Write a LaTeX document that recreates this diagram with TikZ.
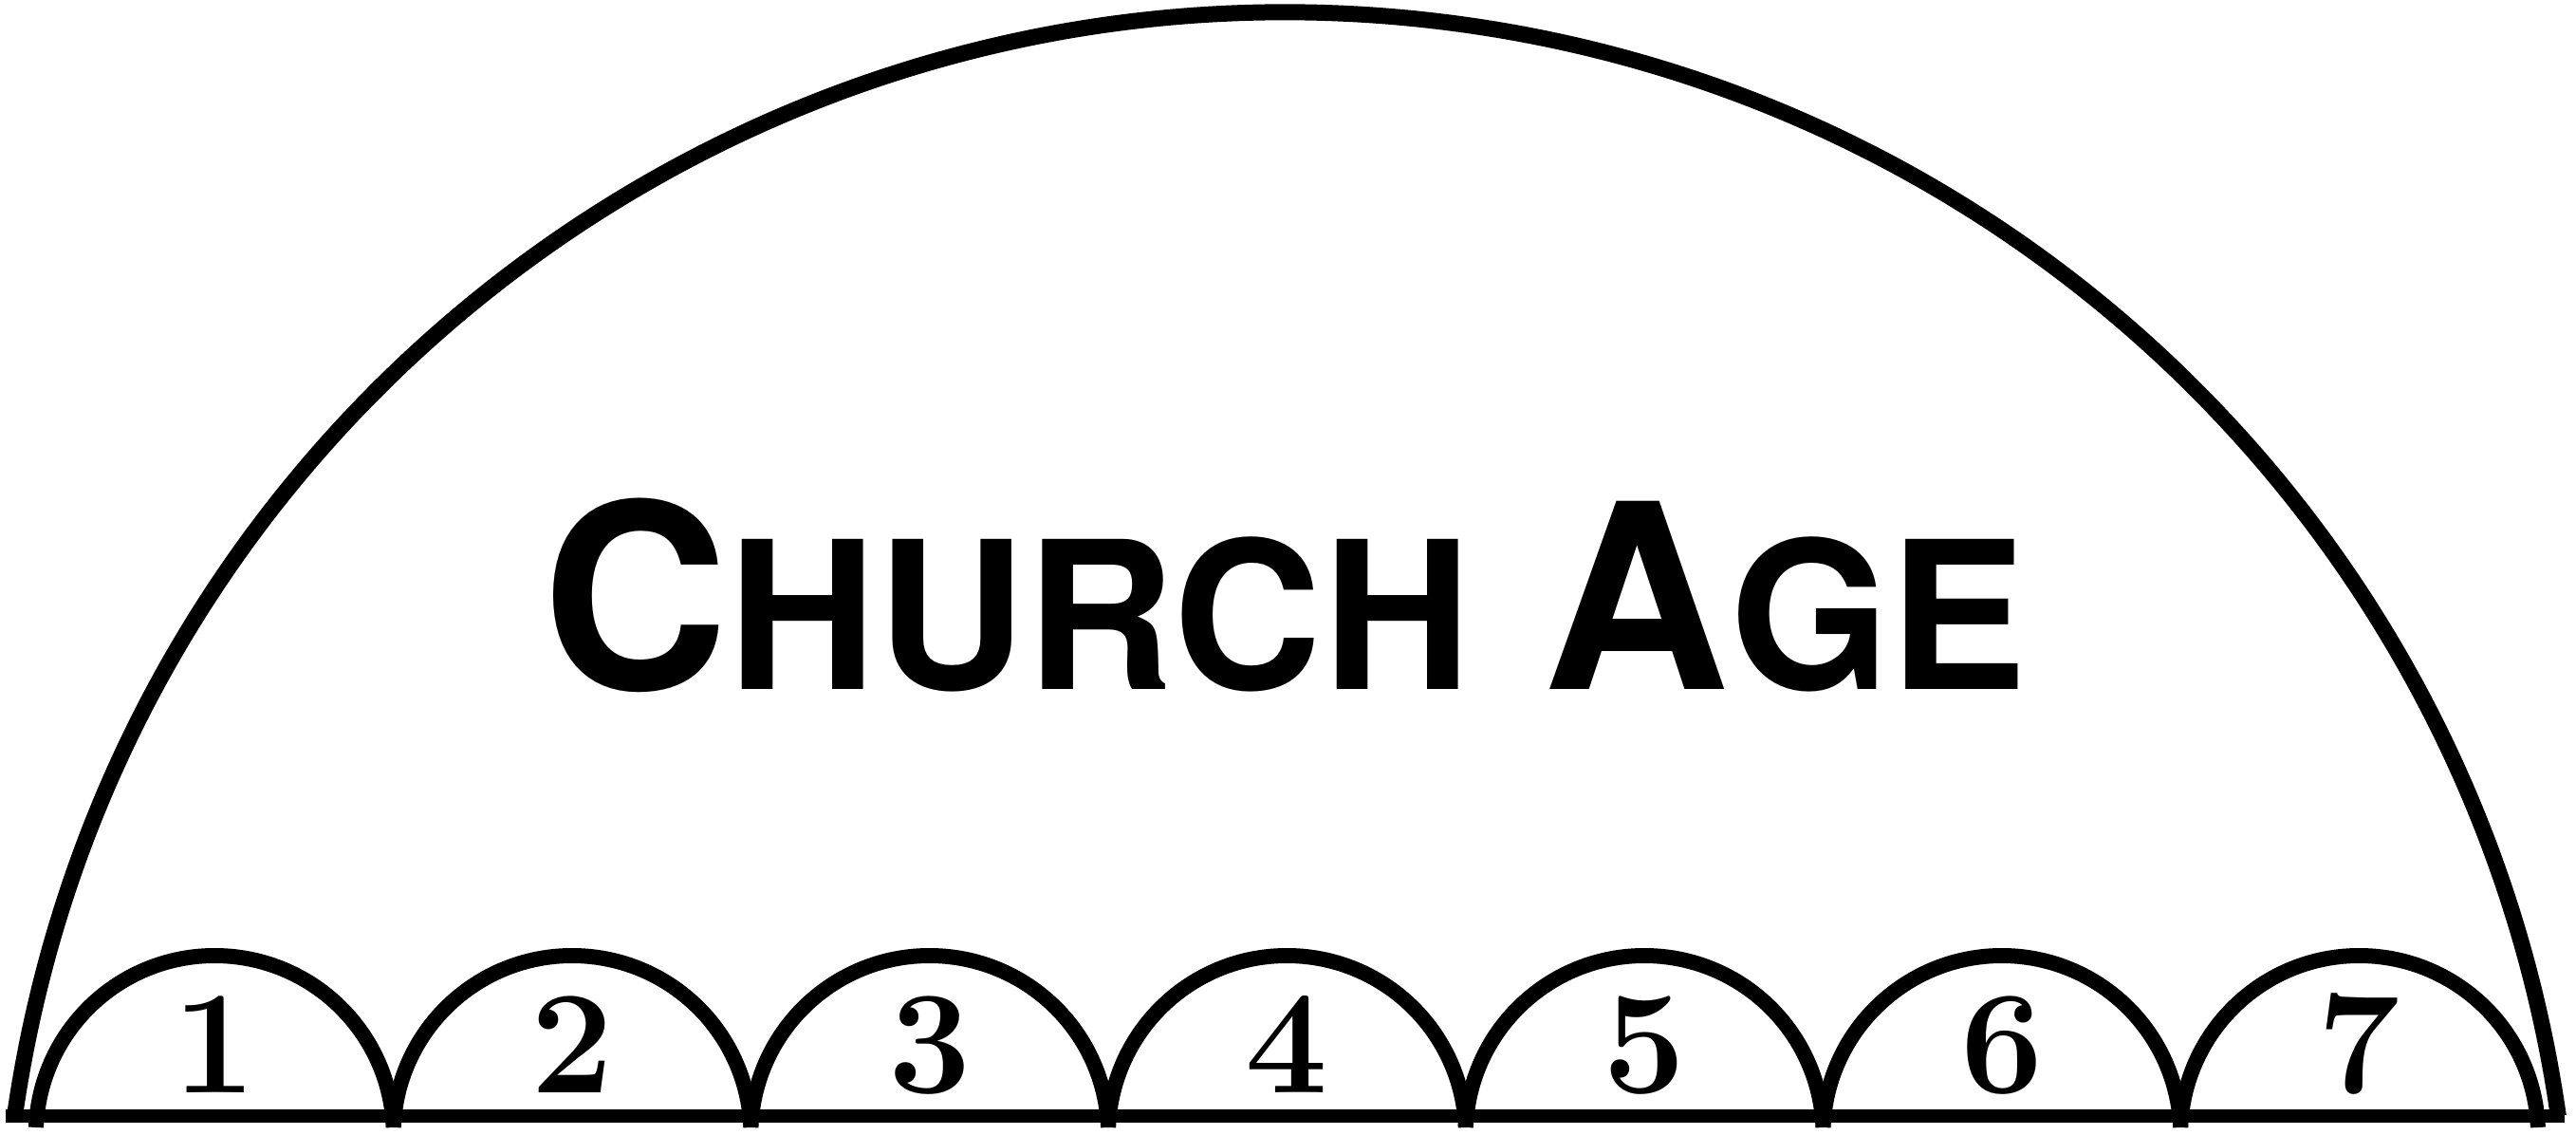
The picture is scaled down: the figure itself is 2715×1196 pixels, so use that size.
\documentclass[tikz,border=0pt]{standalone}
\usepackage{fontspec}
\newfontfamily\titlefont{TeX Gyre Heros}[BoldFont={* Bold}]
\tikzset{
  bigarc/.style={draw=black, line width=17pt},
  smallarc/.style={draw=black, line width=16pt},
  baseline/.style={draw=black, line width=14pt},
  numlabel/.style={anchor=base, inner sep=0pt, font=\fontsize{155pt}{155pt}\selectfont\bfseries},
  titlelabel/.style={anchor=base, inner sep=0pt}
}
\begin{document}
\begin{tikzpicture}[x=1pt,y=1pt]
\useasboundingbox (0,0) rectangle (2715,1196);
% big arc of the church age
\coordinate (bigL) at (15.5,20);
\draw[bigarc] (bigL) arc[start angle=171.89, end angle=8.11, radius=1354];
% seven small arcs
\foreach \k in {0,...,6}{
  \pgfmathsetmacro{\xs}{38+\k*376.7}
  \pgfmathsetmacro{\xc}{38+(\k+0.5)*376.7}
  \pgfmathtruncatemacro{\n}{\k+1}
  \coordinate (s\n) at (\xs,8);
  \draw[smallarc] (s\n) arc[start angle=177.72, end angle=2.28, radius=188.5];
  \node[numlabel] (n\n) at (\xc,44) {\n};
}
% base line
\coordinate (baseL) at (6,20);
\coordinate (baseR) at (2703,20);
\draw[baseline] (baseL) -- (baseR);
% title
\node[titlelabel] (title) at (1354,469) {\titlefont\bfseries{\fontsize{272pt}{272pt}\selectfont C}{\fontsize{217pt}{217pt}\selectfont HURCH}{\fontsize{272pt}{272pt}\selectfont\ A}{\fontsize{217pt}{217pt}\selectfont GE}};
\end{tikzpicture}
\end{document}
